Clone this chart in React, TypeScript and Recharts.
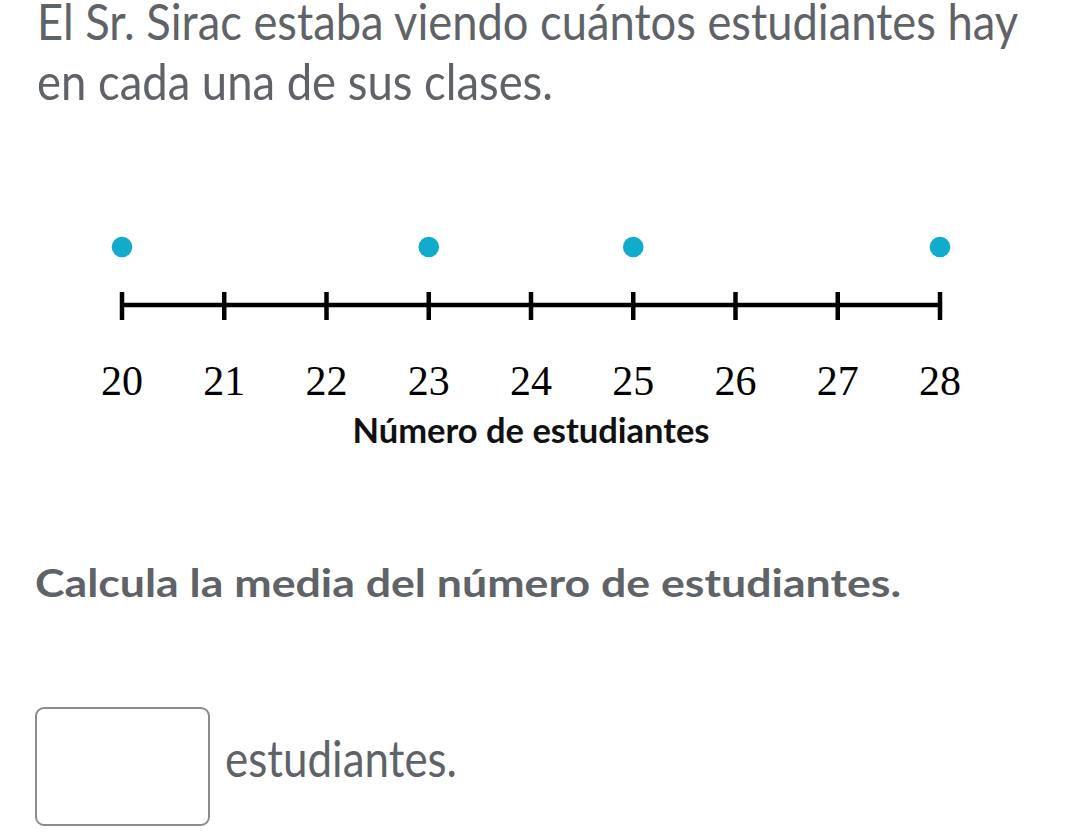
import React from 'react';
import { ScatterChart, Scatter, XAxis, YAxis, Label } from 'recharts';

const titleLines = ['El Sr. Sirac estaba viendo cuántos estudiantes hay', 'en cada una de sus clases.'];
const question = 'Calcula la media del número de estudiantes.';
const answerSuffix = 'estudiantes.';
const axisTitle = 'Número de estudiantes';
const tickValues = [20, 21, 22, 23, 24, 25, 26, 27, 28];
const classSizes = [20, 23, 25, 28];
const stackLevels = [1, 1, 1, 1];

const points = classSizes.map((v, i) => ({ x: v, y: stackLevels[i] }));

const TEXT_GREY = '#5f6368';
const DOT = '#11accd';

const Tick = (props: any) => {
  const { x, y, payload } = props;
  return (
    <g>
      <line x1={x} x2={x} y1={y - 13} y2={y + 15} stroke="#000" strokeWidth={4.5} />
      <text x={x} y={y + 90} textAnchor="middle" fontFamily="'Liberation Serif', serif" fontSize={42} fill="#000">
        {payload.value}
      </text>
    </g>
  );
};

const AxisTitle = (props: any) => {
  const vb = props.viewBox || {};
  const cx = vb.x + vb.width / 2;
  return (
    <text x={cx} y={vb.y + 138} textAnchor="middle" fontFamily="Lato, sans-serif" fontWeight={700} fontSize={35} fill="#111" textLength={357} lengthAdjust="spacingAndGlyphs">
      {axisTitle}
    </text>
  );
};

const DotShape = (props: any) => <circle cx={props.cx} cy={props.cy} r={10.3} fill={DOT} />;

export default function App() {
  return (
    <div style={{ position: 'absolute', left: 0, top: 0, width: 1070, height: 835, background: '#fff', overflow: 'hidden' }}>
      <svg width={1070} height={835} style={{ position: 'absolute', left: 0, top: 0 }}>
        <text x={37} y={40} fontFamily="Lato, sans-serif" fontSize={50} fill={TEXT_GREY} textLength={981} lengthAdjust="spacingAndGlyphs">{titleLines[0]}</text>
        <text x={37} y={100} fontFamily="Lato, sans-serif" fontSize={51} fill={TEXT_GREY} textLength={516} lengthAdjust="spacingAndGlyphs">{titleLines[1]}</text>
        <text x={35} y={597} fontFamily="Lato, sans-serif" fontWeight={700} fontSize={39} fill={TEXT_GREY} textLength={866} lengthAdjust="spacingAndGlyphs">{question}</text>
        <rect x={36} y={708} width={173} height={117} rx={8} ry={8} fill="none" stroke="#8c8c8c" strokeWidth={2} />
        <text x={225} y={777} fontFamily="Lato, sans-serif" fontSize={50} fill={TEXT_GREY} textLength={232} lengthAdjust="spacingAndGlyphs">{answerSuffix}</text>
      </svg>
      <div style={{ position: 'absolute', left: 0, top: 0 }}>
        <ScatterChart width={1070} height={835} margin={{ top: 189, right: 130, bottom: 400, left: 122 }}>
          <XAxis
            type="number"
            dataKey="x"
            domain={[20, 28]}
            ticks={tickValues}
            interval={0}
            height={130}
            axisLine={{ stroke: '#000', strokeWidth: 4.5 }}
            tickLine={false}
            tickSize={0}
            tickMargin={0}
            tick={<Tick />}
          >
            <Label content={<AxisTitle />} />
          </XAxis>
          <YAxis type="number" dataKey="y" domain={[0, 2]} hide />
          <Scatter data={points} shape={<DotShape />} isAnimationActive={false} />
        </ScatterChart>
      </div>
    </div>
  );
}
